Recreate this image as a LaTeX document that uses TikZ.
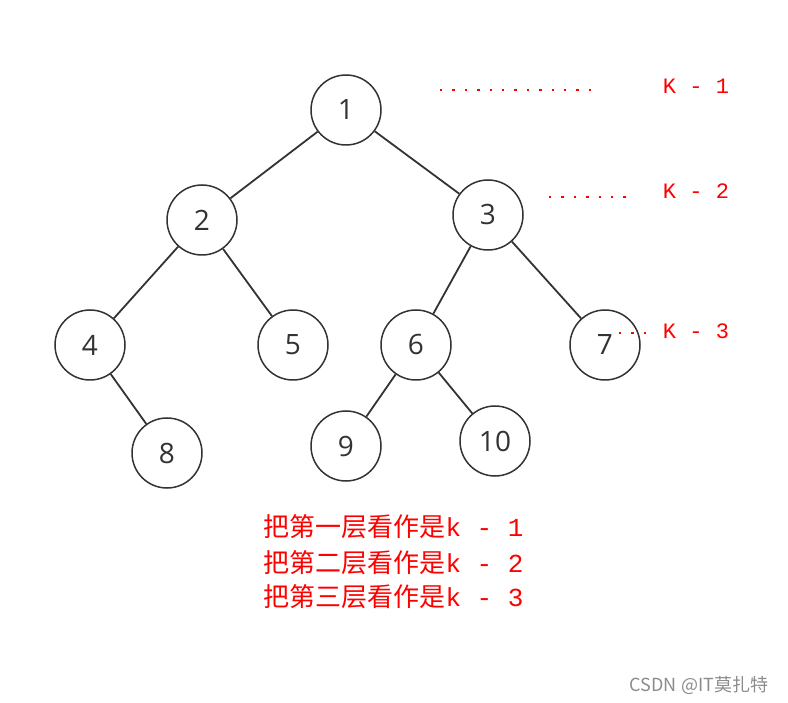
\documentclass[tikz,border=0pt]{standalone}
\usepackage{fontspec}
\setmainfont{Open Sans}
\newfontfamily\cjk{Noto Sans CJK SC}
\newfontfamily\monofnt{Liberation Mono}
\begin{document}
\begin{tikzpicture}[x=1pt,y=-1pt,
  vertex/.style={circle, draw=black!80, line width=1.5pt, minimum size=70pt, inner sep=0pt, font=\fontsize{28}{28}\selectfont, text=black!80},
  edge/.style={line width=1.8pt, black!80},
  lvl/.style={red, line width=2.4pt, dash pattern=on 2.4pt off 10pt},
  lvltext/.style={red, font=\monofnt\fontsize{22}{22}\selectfont},
  note/.style={red, font=\fontsize{26}{28}\selectfont, anchor=west}]
  \useasboundingbox[fill=white] (0,0) rectangle (788,703);

  \node[vertex] (n1) at (346,110) {1};
  \node[vertex] (n2) at (202,220) {2};
  \node[vertex] (n3) at (488,215) {3};
  \node[vertex] (n4) at (90,345) {4};
  \node[vertex] (n5) at (293,345) {5};
  \node[vertex] (n6) at (416,345) {6};
  \node[vertex] (n7) at (605,345) {7};
  \node[vertex] (n8) at (167,453) {8};
  \node[vertex] (n9) at (346,446) {9};
  \node[vertex] (n10) at (495,441) {10};

  \draw[edge] (n1) -- (n2);
  \draw[edge] (n1) -- (n3);
  \draw[edge] (n2) -- (n4);
  \draw[edge] (n2) -- (n5);
  \draw[edge] (n3) -- (n6);
  \draw[edge] (n3) -- (n7);
  \draw[edge] (n4) -- (n8);
  \draw[edge] (n6) -- (n9);
  \draw[edge] (n6) -- (n10);

  % level marks
  \coordinate (a1) at (440,90);  \coordinate (b1) at (597,90);
  \coordinate (a2) at (549,197); \coordinate (b2) at (628,197);
  \coordinate (a3) at (619,333); \coordinate (b3) at (656,333);
  \draw[lvl] (a1) -- (b1);
  \draw[lvl] (a2) -- (b2);
  \draw[lvl] (a3) -- (b3);
  \node[lvltext] (k1) at (696,86) {K - 1};
  \node[lvltext] (k2) at (696,191) {K - 2};
  \node[lvltext] (k3) at (696,331) {K - 3};

  \node[note] (t1) at (260,527) {\cjk 把第一层看作是\monofnt k - 1};
  \node[note] (t2) at (260,563) {\cjk 把第二层看作是\monofnt k - 2};
  \node[note] (t3) at (260,597) {\cjk 把第三层看作是\monofnt k - 3};

  \node[black!45, font=\cjk\fontsize{18}{18}\selectfont] (wm) at (699,685) {CSDN @IT莫扎特};
\end{tikzpicture}
\end{document}
